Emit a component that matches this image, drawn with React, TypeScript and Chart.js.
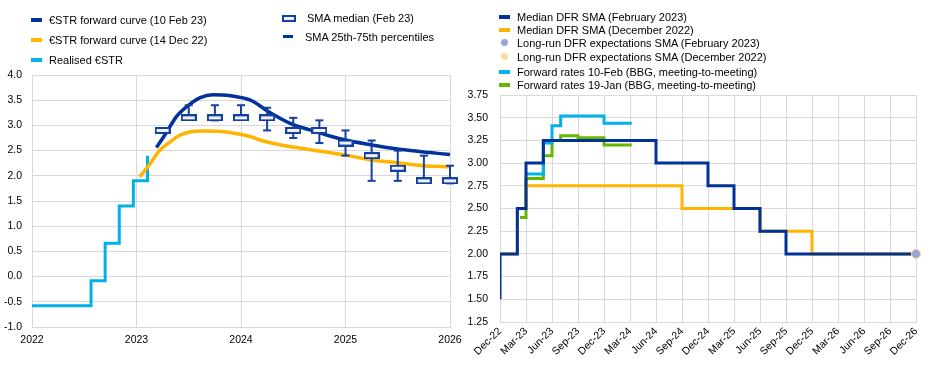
import React, { useEffect, useRef } from 'react';
import { Chart, registerables } from 'chart.js';

Chart.register(...registerables);

const FONT = "'Liberation Sans', Arial, sans-serif";
const DARK_BLUE = '#003299';
const BOX_BLUE = '#1440a0';
const YELLOW = '#ffb400';
const LIGHT_BLUE = '#00b1ea';
const GREEN = '#65b800';
const LAVENDER = '#9ba4d6';
const PEACH = '#fdd8a0';
const GRID = '#d9d9d9';

// ---------- Left panel data ----------
const yearTicks = ['2022', '2023', '2024', '2025', '2026'];

const realisedX = [2022.0, 2022.565, 2022.70, 2022.835, 2022.97, 2023.105];
const realisedY = [-0.58, -0.08, 0.66, 1.40, 1.90, 2.40];

const fwdFebX = [2023.19, 2023.29, 2023.38, 2023.48, 2023.61, 2023.73, 2023.90, 2024.09, 2024.28, 2024.47, 2024.66, 2024.85, 2025.0, 2025.23, 2025.43, 2025.62, 2025.81, 2026.0];
const fwdFebY = [2.56, 2.87, 3.17, 3.37, 3.55, 3.61, 3.59, 3.50, 3.25, 3.04, 2.91, 2.79, 2.71, 2.62, 2.55, 2.50, 2.46, 2.42];

const fwdDecX = [2023.03, 2023.13, 2023.22, 2023.32, 2023.41, 2023.51, 2023.64, 2023.86, 2024.09, 2024.21, 2024.53, 2024.85, 2025.0, 2025.23, 2025.49, 2025.745, 2026.0];
const fwdDecY = [1.98, 2.24, 2.50, 2.67, 2.80, 2.87, 2.89, 2.87, 2.78, 2.69, 2.56, 2.46, 2.41, 2.32, 2.26, 2.20, 2.18];

const smaX = [2023.25, 2023.50, 2023.75, 2024.00, 2024.25, 2024.50, 2024.75, 2025.00, 2025.25, 2025.50, 2025.75, 2026.00];
const smaMedian = [2.90, 3.15, 3.15, 3.15, 3.15, 2.90, 2.90, 2.65, 2.40, 2.15, 1.90, 1.90];
const smaP25 = [2.90, 3.15, 3.10, 3.15, 2.90, 2.75, 2.65, 2.40, 1.90, 1.90, 1.90, 1.85];
const smaP75 = [2.90, 3.40, 3.40, 3.40, 3.35, 3.15, 3.10, 2.90, 2.70, 2.50, 2.40, 2.20];

// ---------- Right panel data (x = months after Dec-22) ----------
const quarterLabels = ['Dec-22', 'Mar-23', 'Jun-23', 'Sep-23', 'Dec-23', 'Mar-24', 'Jun-24', 'Sep-24', 'Dec-24', 'Mar-25', 'Jun-25', 'Sep-25', 'Dec-25', 'Mar-26', 'Jun-26', 'Sep-26', 'Dec-26'];

const medFebX = [0, 0, 2, 3, 5, 18, 24, 27, 30, 33, 48];
const medFebY = [1.50, 2.00, 2.50, 3.00, 3.25, 3.00, 2.75, 2.50, 2.25, 2.00, 2.00];

const medDecX = [0, 2, 3, 21, 30, 36, 48];
const medDecY = [2.00, 2.50, 2.75, 2.50, 2.25, 2.00, 2.00];

const fwd10FebX = [3, 5, 6, 7, 12, 15.2];
const fwd10FebY = [2.88, 3.22, 3.41, 3.52, 3.44, 3.44];

const fwd19JanX = [2.3, 3, 5, 6, 7, 9, 12, 15.2];
const fwd19JanY = [2.40, 2.83, 3.08, 3.25, 3.30, 3.28, 3.20, 3.20];

const longRunX = [48];
const longRunFebY = [2.00];
const longRunDecY = [2.00];

function pts(xs: number[], ys: (number | null)[]) {
  return xs.map((x, i) => ({ x, y: ys[i] }));
}

function makeBoxImage() {
  const c = document.createElement('canvas');
  c.width = 16;
  c.height = 7;
  const ctx = c.getContext('2d')!;
  ctx.fillStyle = '#eef2fa';
  ctx.fillRect(1, 1, 14, 5);
  ctx.strokeStyle = BOX_BLUE;
  ctx.lineWidth = 2;
  ctx.strokeRect(1, 1, 14, 5);
  return c;
}

function whiskerData() {
  const out: { x: number; y: number | null }[] = [];
  smaX.forEach((x, i) => {
    if (smaP25[i] !== smaP75[i]) {
      out.push({ x, y: smaP25[i] }, { x, y: smaP75[i] }, { x, y: null });
    }
  });
  return out;
}

const tickFont = { family: FONT, size: 10.5 };

function LeftChart() {
  const ref = useRef<HTMLCanvasElement>(null);
  useEffect(() => {
    const chart = new Chart(ref.current!, {
      type: 'line',
      data: {
        datasets: [
          {
            data: pts(smaX, smaMedian),
            showLine: false,
            pointStyle: makeBoxImage() as any,
            pointRadius: 7,
            clip: false as any,
          },
          {
            data: whiskerData(),
            borderColor: BOX_BLUE,
            borderWidth: 2,
            pointStyle: 'line',
            pointRadius: 4,
            pointBorderWidth: 2,
            pointBorderColor: BOX_BLUE,
            spanGaps: false,
            clip: false as any,
          },
          {
            data: pts(fwdFebX, fwdFebY),
            borderColor: DARK_BLUE,
            borderWidth: 3.5,
            cubicInterpolationMode: 'monotone',
            pointRadius: 0,
          },
          {
            data: pts(fwdDecX, fwdDecY),
            borderColor: YELLOW,
            borderWidth: 3.5,
            cubicInterpolationMode: 'monotone',
            pointRadius: 0,
          },
          {
            data: pts(realisedX, realisedY),
            borderColor: LIGHT_BLUE,
            borderWidth: 3,
            stepped: 'before',
            pointRadius: 0,
          },
        ],
      },
      options: {
        animation: false,
        responsive: false,
        maintainAspectRatio: false,
        layout: { padding: { top: 75, right: 20, left: 0, bottom: 0 } },
        plugins: { legend: { display: false }, tooltip: { enabled: false } },
        scales: {
          x: {
            type: 'linear',
            min: 2022,
            max: 2026,
            afterFit: (s: any) => { s.height = 39; },
            ticks: {
              stepSize: 1,
              padding: 7,
              color: '#000',
              font: tickFont,
              callback: (v: any) => yearTicks[Math.round(Number(v) - 2022)] ?? '',
            },
            grid: { color: GRID, drawTicks: false },
            border: { color: GRID },
          },
          y: {
            min: -1,
            max: 4,
            afterFit: (s: any) => { s.width = 32; },
            ticks: {
              stepSize: 0.5,
              padding: 10,
              color: '#000',
              font: tickFont,
              callback: (v: any) => Number(v).toFixed(1),
            },
            grid: { color: GRID, drawTicks: false },
            border: { color: GRID },
          },
        },
      } as any,
    });
    return () => chart.destroy();
  }, []);
  return <canvas ref={ref} width={470} height={366} style={{ position: 'absolute', left: 0, top: 0, width: 470, height: 366 }} />;
}

function RightChart() {
  const ref = useRef<HTMLCanvasElement>(null);
  useEffect(() => {
    const chart = new Chart(ref.current!, {
      type: 'line',
      data: {
        datasets: [
          {
            data: pts(longRunX, longRunFebY),
            showLine: false,
            pointRadius: 4.5,
            pointBackgroundColor: LAVENDER,
            pointBorderColor: PEACH,
            pointBorderWidth: 1,
            clip: false as any,
          },
          {
            data: pts(longRunX, longRunDecY),
            showLine: false,
            pointRadius: 4.5,
            pointBackgroundColor: PEACH,
            pointBorderColor: PEACH,
            pointBorderWidth: 1,
            clip: false as any,
          },
          {
            data: pts(medFebX, medFebY),
            borderColor: DARK_BLUE,
            borderWidth: 3,
            stepped: 'before',
            pointRadius: 0,
          },
          {
            data: pts(medDecX, medDecY),
            borderColor: YELLOW,
            borderWidth: 3,
            stepped: 'before',
            pointRadius: 0,
          },
          {
            data: pts(fwd10FebX, fwd10FebY),
            borderColor: LIGHT_BLUE,
            borderWidth: 3,
            stepped: 'before',
            pointRadius: 0,
          },
          {
            data: pts(fwd19JanX, fwd19JanY),
            borderColor: GREEN,
            borderWidth: 3,
            stepped: 'before',
            pointRadius: 0,
          },
        ],
      },
      options: {
        animation: false,
        responsive: false,
        maintainAspectRatio: false,
        layout: { padding: { top: 95, right: 29, left: 0, bottom: 0 } },
        plugins: { legend: { display: false }, tooltip: { enabled: false } },
        scales: {
          x: {
            type: 'linear',
            min: 0,
            max: 48,
            afterFit: (s: any) => { s.height = 44; },
            ticks: {
              stepSize: 3,
              autoSkip: false,
              minRotation: 45,
              maxRotation: 45,
              padding: 3,
              color: '#000',
              font: tickFont,
              callback: (v: any) => quarterLabels[Math.round(Number(v) / 3)] ?? '',
            },
            grid: { color: GRID, drawTicks: false },
            border: { color: GRID },
          },
          y: {
            min: 1.25,
            max: 3.75,
            afterFit: (s: any) => { s.width = 45; },
            ticks: {
              stepSize: 0.25,
              padding: 12,
              color: '#000',
              font: tickFont,
              callback: (v: any) => Number(v).toFixed(2),
            },
            grid: { color: GRID, drawTicks: false },
            border: { color: GRID },
          },
        },
      } as any,
    });
    return () => chart.destroy();
  }, []);
  return <canvas ref={ref} width={490} height={366} style={{ position: 'absolute', left: 455, top: 0, width: 490, height: 366 }} />;
}

const textStyle = (left: number, cy: number): React.CSSProperties => ({
  position: 'absolute',
  left,
  top: cy - 7,
  height: 14,
  lineHeight: '14px',
  fontFamily: FONT,
  fontSize: 11,
  color: '#000',
  whiteSpace: 'nowrap',
});

function LineMarker({ left, cy, color, w = 11, h = 4 }: { left: number; cy: number; color: string; w?: number; h?: number }) {
  return <div style={{ position: 'absolute', left, top: cy - h / 2, width: w, height: h, background: color }} />;
}

function DotMarker({ left, cy, color }: { left: number; cy: number; color: string }) {
  return <div style={{ position: 'absolute', left, top: cy - 3.5, width: 7, height: 7, borderRadius: '50%', background: color }} />;
}

const leftLegend = [
  { label: '€STR forward curve (10 Feb 23)', color: DARK_BLUE, cy: 20 },
  { label: '€STR forward curve (14 Dec 22)', color: YELLOW, cy: 40 },
  { label: 'Realised €STR', color: LIGHT_BLUE, cy: 59.5 },
];

const rightLegend = [
  { label: 'Median DFR SMA (February 2023)', color: DARK_BLUE, cy: 17.3, dot: false },
  { label: 'Median DFR SMA (December 2022)', color: YELLOW, cy: 30, dot: false },
  { label: 'Long-run DFR expectations SMA (February 2023)', color: LAVENDER, cy: 42.7, dot: true },
  { label: 'Long-run DFR expectations SMA (December 2022)', color: PEACH, cy: 56.5, dot: true },
  { label: 'Forward rates 10-Feb (BBG, meeting-to-meeting)', color: LIGHT_BLUE, cy: 71.5, dot: false },
  { label: 'Forward rates 19-Jan (BBG, meeting-to-meeting)', color: GREEN, cy: 85, dot: false },
];

export default function App() {
  return (
    <div style={{ position: 'fixed', left: 0, top: 0, width: 945, height: 366, background: '#fff', overflow: 'hidden' }}>
      <LeftChart />
      <RightChart />
      {leftLegend.map((it) => (
        <React.Fragment key={it.label}>
          <LineMarker left={31} cy={it.cy} color={it.color} />
          <div style={textStyle(49, it.cy)}>{it.label}</div>
        </React.Fragment>
      ))}
      <div style={{ position: 'absolute', left: 282, top: 15, width: 10, height: 3, border: `2px solid ${BOX_BLUE}`, background: '#eef2fa' }} />
      <div style={textStyle(307, 18.3)}>SMA median (Feb 23)</div>
      <LineMarker left={283} cy={36.7} color={DARK_BLUE} w={10} h={3} />
      <div style={textStyle(305, 36.7)}>SMA 25th-75th percentiles</div>
      {rightLegend.map((it) => (
        <React.Fragment key={it.label}>
          {it.dot ? (
            <DotMarker left={501} cy={it.cy} color={it.color} />
          ) : (
            <LineMarker left={499} cy={it.cy} color={it.color} />
          )}
          <div style={textStyle(517, it.cy)}>{it.label}</div>
        </React.Fragment>
      ))}
    </div>
  );
}
